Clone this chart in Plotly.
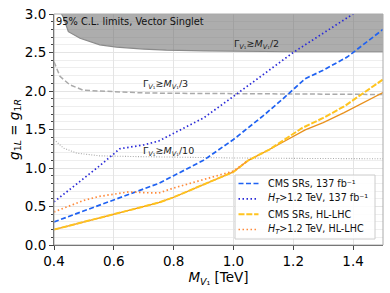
import plotly.graph_objects as go

# ---------------- data ----------------
# gray width-limit curves
w2_x = [0.425, 0.431, 0.448, 0.487, 0.553, 0.609, 0.70, 0.776, 0.9, 1.0, 1.2, 1.5]
w2_y = [3.00, 2.96, 2.77, 2.685, 2.60, 2.57, 2.545, 2.53, 2.52, 2.515, 2.51, 2.51]

w3_x = [0.40, 0.42, 0.453, 0.498, 0.55, 0.609, 0.7, 0.8, 1.0, 1.2, 1.5]
w3_y = [2.38, 2.19, 2.08, 2.01, 2.00, 1.99, 1.975, 1.97, 1.965, 1.96, 1.955]

w10_x = [0.40, 0.431, 0.476, 0.553, 0.664, 0.8, 1.0, 1.2, 1.5]
w10_y = [1.37, 1.26, 1.193, 1.158, 1.149, 1.14, 1.13, 1.125, 1.12]

# limits
cms137_x = [0.4, 0.5, 0.6, 0.7, 0.75, 0.8, 0.9, 1.0, 1.1, 1.16, 1.24, 1.3, 1.38, 1.5]
cms137_y = [0.30, 0.44, 0.58, 0.72, 0.80, 0.90, 1.10, 1.37, 1.68, 1.88, 2.16, 2.27, 2.44, 2.80]

ht137_x = [0.4, 0.5, 0.55, 0.62, 0.7, 0.75, 0.8, 0.9, 1.0, 1.1, 1.2, 1.3, 1.4, 1.5]
ht137_y = [0.56, 0.86, 1.02, 1.25, 1.30, 1.35, 1.45, 1.65, 1.93, 2.22, 2.50, 2.75, 3.00, 3.25]

cmshl_x = [0.4, 0.5, 0.6, 0.7, 0.75, 0.8, 0.9, 1.0, 1.05, 1.12, 1.23, 1.3, 1.37, 1.5]
cmshl_y = [0.20, 0.30, 0.39, 0.49, 0.55, 0.62, 0.78, 0.95, 1.10, 1.24, 1.52, 1.65, 1.80, 2.15]

hthl_x = [0.4, 0.45, 0.5, 0.55, 0.6, 0.65, 0.7, 0.75, 0.8, 0.9, 1.0, 1.05]
hthl_y = [0.43, 0.51, 0.58, 0.63, 0.66, 0.69, 0.68, 0.675, 0.74, 0.85, 0.96, 1.10]

solid_x = [0.4, 0.5, 0.6, 0.7, 0.75, 0.8, 0.9, 1.0, 1.05, 1.12, 1.24, 1.3, 1.37, 1.5]
solid_y = [0.20, 0.30, 0.39, 0.49, 0.55, 0.62, 0.78, 0.95, 1.10, 1.24, 1.495, 1.59, 1.72, 1.98]

legend_labels = ["CMS SRs, 137 fb⁻¹",
                 "<i>H<sub>T</sub></i>>1.2 TeV, 137 fb⁻¹",
                 "CMS SRs, HL-LHC",
                 "<i>H<sub>T</sub></i>>1.2 TeV, HL-LHC"]

x_ticks = [0.4, 0.6, 0.8, 1.0, 1.2, 1.4]
y_ticks = [0.0, 0.5, 1.0, 1.5, 2.0, 2.5, 3.0]

FONT = "DejaVu Sans"
W, H = 390, 293
ML, MR, MT, MB = 54, 7, 14, 48
PW, PH = W - ML - MR, H - MT - MB

def px2paper(px, py):
    return (px - ML) / PW, (H - MB - py) / PH

styles = [dict(color="#1f62f2", width=1.7, dash="5px,2.5px"),
          dict(color="#2a2ad8", width=1.7, dash="1.5px,2.5px"),
          dict(color="#ffc41f", width=2.0, dash="6px,1.8px"),
          dict(color="#ff8a3a", width=1.7, dash="1.5px,2.5px")]

fig = go.Figure()

# shaded excluded band
fig.add_trace(go.Scatter(
    x=w2_x + [w2_x[-1], w2_x[0]], y=w2_y + [3.0, 3.0],
    fill="toself", fillcolor="rgba(110,110,110,0.57)",
    line=dict(color="rgba(0,0,0,0)", width=0), mode="lines",
    showlegend=False, hoverinfo="skip"))
fig.add_trace(go.Scatter(x=w2_x, y=w2_y, mode="lines",
    line=dict(color="#8a8a8a", width=1.2), showlegend=False))
fig.add_trace(go.Scatter(x=w3_x, y=w3_y, mode="lines",
    line=dict(color="#aaaaaa", width=1.5, dash="5px,2.5px"), showlegend=False))
fig.add_trace(go.Scatter(x=w10_x, y=w10_y, mode="lines",
    line=dict(color="#aaaaaa", width=1.1, dash="1px,1.6px"), showlegend=False))

# limit curves
fig.add_trace(go.Scatter(x=solid_x, y=solid_y, mode="lines",
    line=dict(color="#e8901c", width=1.3), showlegend=False))
for xs, ys, lab, st in zip([cms137_x, ht137_x, cmshl_x, hthl_x],
                           [cms137_y, ht137_y, cmshl_y, hthl_y],
                           legend_labels, styles):
    fig.add_trace(go.Scatter(x=xs, y=ys, mode="lines", name=lab,
                             line=st, showlegend=False))

ann_font = dict(family=FONT, size=9.5, color="#222")
fig.add_annotation(x=0.4, y=3.0, xref="x", yref="y", xanchor="left", yanchor="top",
                   text="95% C.L. limits, Vector Singlet", showarrow=False,
                   font=dict(family=FONT, size=9.8, color="#111"))
fig.add_annotation(x=0.995, y=2.61, xref="x", yref="y", xanchor="left", yanchor="middle",
                   text="Γ<sub><i>V</i>₁</sub>≳<i>M</i><sub><i>V</i>₁</sub>/2",
                   showarrow=False, font=ann_font)
fig.add_annotation(x=0.69, y=2.08, xref="x", yref="y", xanchor="left", yanchor="middle",
                   text="Γ<sub><i>V</i>₁</sub>≳<i>M</i><sub><i>V</i>₁</sub>/3",
                   showarrow=False, font=ann_font)
fig.add_annotation(x=0.69, y=1.22, xref="x", yref="y", xanchor="left", yanchor="middle",
                   text="Γ<sub><i>V</i>₁</sub>≳<i>M</i><sub><i>V</i>₁</sub>/10",
                   showarrow=False, font=ann_font)

# light top/right frame
fig.add_shape(type="rect", xref="paper", yref="paper", x0=0, y0=0, x1=1, y1=1,
              line=dict(color="#aaaaaa", width=1), layer="above")

# compact legend (matplotlib-like spacing)
bx0, by0 = px2paper(235, 239)
bx1, by1 = px2paper(375, 175)
fig.add_shape(type="rect", xref="paper", yref="paper", x0=bx0, y0=by0, x1=bx1, y1=by1,
              line=dict(color="#cccccc", width=1), fillcolor="rgba(255,255,255,0.85)",
              layer="above")
row_px = [183.5, 198.8, 214.2, 229.5]
for lab, st, ry in zip(legend_labels, styles, row_px):
    sx0, sy = px2paper(238.5, ry)
    sx1, _ = px2paper(258.5, ry)
    fig.add_shape(type="line", xref="paper", yref="paper", x0=sx0, y0=sy, x1=sx1, y1=sy,
                  line=st, layer="above")
    tx, ty = px2paper(265.5, ry)
    fig.add_annotation(x=tx, y=ty, xref="paper", yref="paper", xanchor="left",
                       yanchor="middle", text=lab, showarrow=False,
                       font=dict(family=FONT, size=9.6, color="#111"))

fig.update_layout(
    width=W, height=H,
    margin=dict(l=ML, r=MR, t=MT, b=MB, autoexpand=False),
    paper_bgcolor="white", plot_bgcolor="white",
    font=dict(family=FONT, color="black"),
    showlegend=False,
)
fig.update_xaxes(
    automargin=False,
    range=[0.4, 1.5], tickvals=x_ticks, ticktext=[f"{v:.1f}" for v in x_ticks],
    ticks="outside", ticklen=4, tickcolor="#444", showline=True, linecolor="#444",
    linewidth=1, showgrid=True, gridcolor="#e4e4e4", gridwidth=1, zeroline=False,
    tickfont=dict(family=FONT, size=13.5),
    title=dict(text="<i>M</i><sub><i>V</i>₁</sub> [TeV]", font=dict(family=FONT, size=13.5), standoff=2),
)
fig.update_yaxes(
    automargin=False,
    range=[0, 3.0], tickvals=y_ticks, ticktext=[f"{v:.1f}" for v in y_ticks],
    ticks="outside", ticklen=4, tickcolor="#444", showline=True, linecolor="#444",
    linewidth=1, showgrid=True, gridcolor="#e4e4e4", gridwidth=1, zeroline=False,
    tickfont=dict(family=FONT, size=13.5),
    minor=dict(dtick=0.1, tick0=0, ticks="outside", ticklen=2, tickcolor="#444",
               showgrid=True, gridcolor="#eeeeee", gridwidth=1),
    title=dict(text="<i>g</i><sub>1<i>L</i></sub> = <i>g</i><sub>1<i>R</i></sub>",
               font=dict(family=FONT, size=13.5), standoff=2),
)

# remove the default 8px page margin so the figure fills the window exactly
fig.write_html("out.html", config={"displayModeBar": False},
               post_script="document.body.style.margin='0';")
